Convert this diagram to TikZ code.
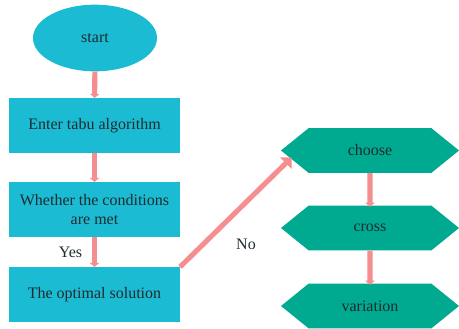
\documentclass[tikz,border=0pt]{standalone}
\usepackage{fontspec}
\setmainfont{Liberation Serif}
\usetikzlibrary{shapes.geometric,shapes.symbols,arrows.meta}
\definecolor{boxcyan}{HTML}{1BBCD3}
\definecolor{hexgreen}{HTML}{00AA90}
\definecolor{arrowpink}{HTML}{F58E91}
\definecolor{textdark}{HTML}{1F2A2E}
\begin{document}
\begin{tikzpicture}[x=0.75pt,y=-0.75pt, font=\fontsize{12}{14.5}\selectfont, text=textdark,
start node/.style={ellipse, fill=boxcyan, minimum width=93pt, minimum height=50pt, inner sep=0pt},
step node/.style={rectangle, fill=boxcyan, minimum width=128pt, minimum height=41pt, align=center, inner sep=0pt},
ga node/.style={signal, signal to=west and east, signal pointer angle=78, fill=hexgreen, minimum width=133.5pt, minimum height=33.5pt, inner sep=0pt},
label node/.style={text=textdark},
small arrow/.style={arrowpink, line width=3.8pt, -{Triangle[width=7pt,length=3pt]}},
big arrow/.style={arrowpink, line width=7pt, -{Triangle[width=12pt,length=6pt]}}]
\useasboundingbox (0,0) rectangle (459,328);

% left column
\node[start node] (n0) at (95,38) {start};
\node[step node] (n1) at (94.5,125.5) {Enter tabu algorithm};
\node[step node] (n2) at (94.5,209.5) {Whether the conditions\\ are met};
\node[step node] (n3) at (94.5,294.5) {The optimal solution};

% right column
\node[ga node] (n4) at (370,150.5) {choose};
\node[ga node] (n5) at (370,228) {cross};
\node[ga node] (n6) at (370,306) {variation};

\path[]
% start -> result
(n0) [small arrow] edge node [] {} (n1)
(n1) [small arrow] edge node [] {} (n2)
(n2) [small arrow] edge node [label node, left=4pt] {Yes} (n3)

% no -> genetic steps
(n3.north east) [big arrow, shorten >=-1pt] edge node [label node, xshift=8pt, yshift=-24pt] {No} ([xshift=7.5pt,yshift=-6pt]n4.west)

% genetic steps
(n4) [small arrow] edge node [] {} (n5)
(n5) [small arrow] edge node [] {} (n6)
;

\end{tikzpicture}
\end{document}
